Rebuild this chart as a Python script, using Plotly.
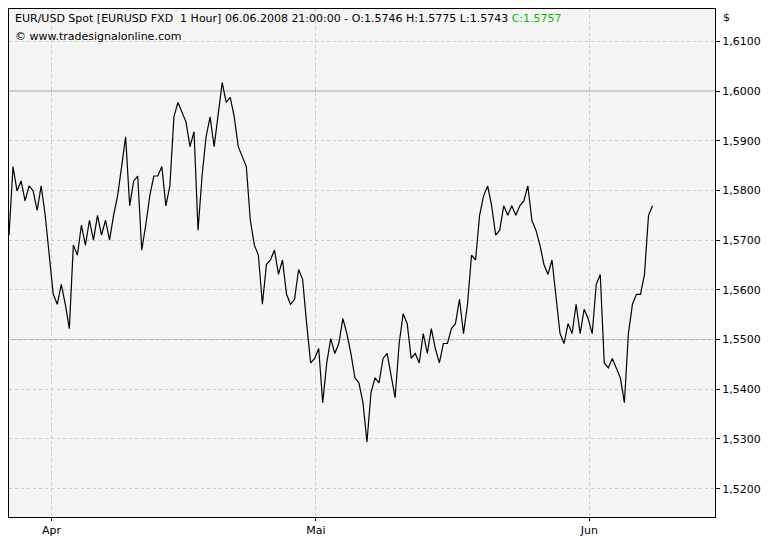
import plotly.graph_objects as go
import pandas as pd

prices = [1.5710,1.5848,1.5799,1.5819,1.5779,1.5809,1.5799,1.5760,1.5809,1.5750,1.5670,1.5591,1.5571,1.5611,1.5571,1.5522,
1.5690,1.5670,1.5730,1.5690,1.5740,1.5700,1.5750,1.5710,1.5740,1.5700,1.5750,1.5789,1.5848,1.5908,1.5769,1.5819,1.5829,
1.5680,1.5730,1.5789,1.5829,1.5829,1.5848,1.5769,1.5809,1.5948,1.5977,1.5957,1.5938,1.5888,1.5918,1.5720,1.5829,1.5908,
1.5948,1.5888,1.5948,1.6017,1.5977,1.5987,1.5948,1.5888,1.5868,1.5848,1.5740,1.5690,1.5670,1.5571,1.5651,1.5660,1.5680,
1.5631,1.5660,1.5591,1.5571,1.5581,1.5641,1.5621,1.5532,1.5453,1.5462,1.5482,1.5373,1.5453,1.5502,1.5472,1.5492,1.5542,
1.5512,1.5472,1.5423,1.5413,1.5373,1.5294,1.5393,1.5423,1.5413,1.5462,1.5472,1.5423,1.5383,1.5492,1.5552,1.5532,1.5462,
1.5472,1.5453,1.5512,1.5472,1.5522,1.5482,1.5453,1.5492,1.5492,1.5522,1.5532,1.5581,1.5512,1.5571,1.5670,1.5660,1.5750,
1.5789,1.5809,1.5769,1.5710,1.5720,1.5769,1.5750,1.5769,1.5750,1.5769,1.5779,1.5809,1.5740,1.5720,1.5690,1.5651,1.5631,
1.5660,1.5591,1.5512,1.5492,1.5532,1.5512,1.5571,1.5512,1.5561,1.5542,1.5512,1.5611,1.5631,1.5453,1.5443,1.5462,1.5443,
1.5423,1.5373,1.5512,1.5571,1.5591,1.5591,1.5631,1.5750,1.5769]
dates = pd.date_range("2008-03-27 04:30", "2008-06-08 04:00", periods=len(prices))
tick_dates = ["2008-04-01", "2008-05-01", "2008-06-01"]
tick_labels = ["Apr", "Mai", "Jun"]
y_ticks = [1.52, 1.53, 1.54, 1.55, 1.56, 1.57, 1.58, 1.59, 1.60, 1.61]
y_labels = ["1,5200", "1,5300", "1,5400", "1,5500", "1,5600", "1,5700", "1,5800", "1,5900", "1,6000", "1,6100"]

fig = go.Figure(go.Scatter(x=dates, y=prices, mode="lines", line=dict(color="black", width=1.2), hoverinfo="skip"))
for lvl in [1.60, 1.55]:
    fig.add_hline(y=lvl, line=dict(color="#a8a8a8", width=1), layer="below")
fig.update_layout(
    width=769, height=536, margin=dict(l=1, r=62, t=1, b=27),
    paper_bgcolor="white", plot_bgcolor="#f5f5f5", showlegend=False,
    font=dict(family="Verdana, DejaVu Sans", size=11, color="black"),
    xaxis=dict(range=["2008-03-27 04:30", "2008-06-15 06:00"], tickvals=tick_dates, ticktext=tick_labels,
               showgrid=True, gridcolor="#c8d0c8", griddash="dot", zeroline=False, ticks="outside", ticklen=3,
               tickcolor="black", showline=True, linecolor="black", mirror=True, fixedrange=True,
               ticklabelstandoff=0),
    yaxis=dict(side="right", range=[1.5143, 1.6165], tickvals=y_ticks, ticktext=y_labels,
               showgrid=True, gridcolor="#c8d0c8", griddash="dot", zeroline=False, ticks="outside", ticklen=4,
               tickcolor="black", showline=True, linecolor="black", mirror=True),
)
fig.add_annotation(xref="paper", yref="paper", x=0.005, y=0.998, xanchor="left", yanchor="top", showarrow=False,
    text="EUR/USD Spot [EURUSD FXD  1 Hour] 06.06.2008 21:00:00 - O:1.5746 H:1.5775 L:1.5743 <span style='color:#00c000'>C:1.5757</span>",
    font=dict(size=11))
fig.add_annotation(xref="paper", yref="paper", x=0.005, y=0.963, xanchor="left", yanchor="top", showarrow=False,
    text="© www.tradesignalonline.com", font=dict(size=11))
fig.add_annotation(xref="paper", yref="paper", x=1.008, y=1.0, xanchor="left", yanchor="top", showarrow=False,
    text="$", font=dict(size=11))
fig.write_html("out.html")
